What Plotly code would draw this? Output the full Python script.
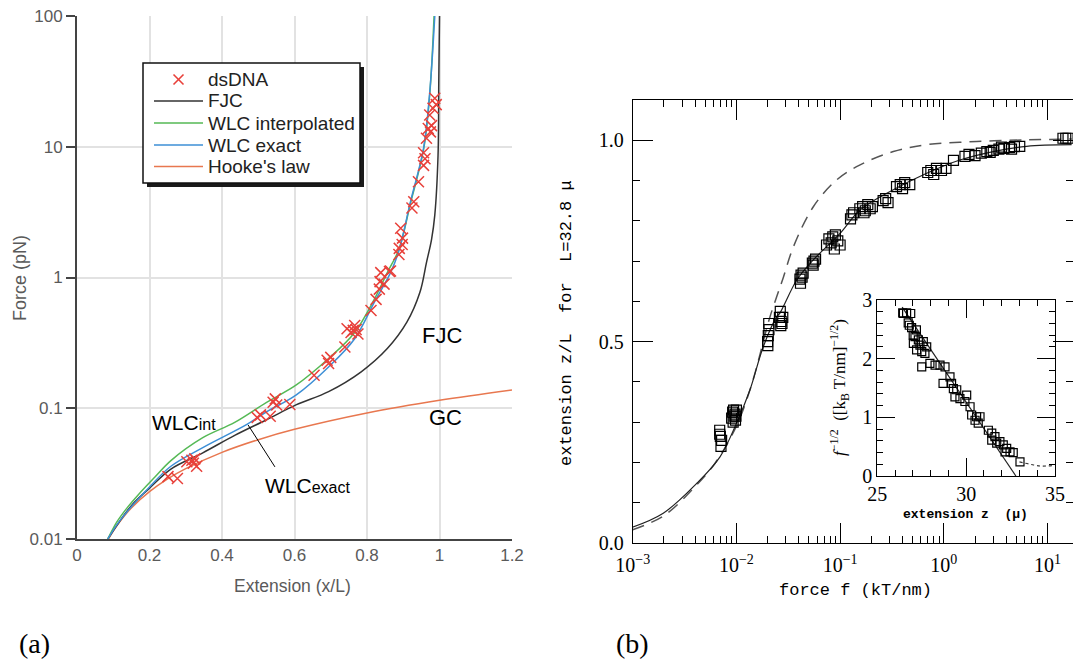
import plotly.graph_objects as go

W, H = 1073, 666

# ---------------- panel (a) data ----------------
fjc_x = [0.085, 0.15, 0.2, 0.259, 0.347, 0.435, 0.523, 0.604, 0.694, 0.784, 0.856, 0.91, 0.946, 0.964, 0.978, 0.987, 0.996, 0.998, 1.0]
fjc_f = [0.01, 0.018, 0.0245, 0.0343, 0.0456, 0.062, 0.0817, 0.106, 0.134, 0.19, 0.286, 0.455, 0.77, 1.3, 1.95, 3.0, 8.6, 31, 100]

wlci_x = [0.085, 0.11, 0.136, 0.171, 0.215, 0.259, 0.347, 0.435, 0.523, 0.604, 0.694, 0.766, 0.82, 0.856, 0.888, 0.92, 0.956, 0.973, 0.985]
wlci_f = [0.01, 0.0135, 0.0170, 0.0221, 0.0298, 0.0398, 0.0596, 0.078, 0.111, 0.150, 0.24, 0.38, 0.68, 1.09, 1.64, 3.7, 9.5, 25, 100]

wlce_x = [0.085, 0.12, 0.2, 0.259, 0.347, 0.47, 0.523, 0.604, 0.694, 0.766, 0.82, 0.865, 0.888, 0.92, 0.956, 0.973, 0.987]
wlce_f = [0.01, 0.014, 0.025, 0.036, 0.050, 0.0756, 0.094, 0.126, 0.207, 0.34, 0.646, 1.09, 1.6, 3.8, 9.7, 26, 100]

hooke_x = [0.085, 0.1, 0.12, 0.15, 0.2, 0.25, 0.3, 0.4, 0.5, 0.6, 0.8, 1.0, 1.2]
hooke_f = [0.0098, 0.0115, 0.0138, 0.0173, 0.023, 0.0288, 0.0345, 0.046, 0.0575, 0.069, 0.092, 0.115, 0.138]

dsdna_x = [0.251, 0.277, 0.303, 0.317, 0.33, 0.321, 0.325,
           0.497, 0.506, 0.533, 0.541, 0.551, 0.547, 0.587,
           0.654, 0.69, 0.694, 0.70, 0.739, 0.745, 0.762, 0.775, 0.766, 0.77, 0.756,
           0.811, 0.825, 0.834, 0.847, 0.838, 0.865, 0.836, 0.862,
           0.888, 0.897, 0.889, 0.898, 0.893,
           0.929, 0.924, 0.942, 0.956, 0.96, 0.956, 0.964, 0.969, 0.978, 0.982, 0.987, 0.991, 0.973, 0.975]
dsdna_f = [0.030, 0.029, 0.039, 0.040, 0.036, 0.038, 0.041,
           0.085, 0.089, 0.087, 0.111, 0.106, 0.118, 0.107,
           0.179, 0.233, 0.22, 0.245, 0.294, 0.405, 0.394, 0.37, 0.43, 0.40, 0.38,
           0.56, 0.68, 0.815, 0.89, 1.09, 1.12, 0.93, 1.11,
           1.5, 1.79, 1.67, 2.0, 2.38,
           3.8, 3.4, 5.4, 7.2, 8.1, 9.0, 11.6, 13.8, 14.5, 19.7, 23.5, 21, 17.5, 13]

pointer_x = [0.472, 0.546]
pointer_f = [0.0745, 0.0356]

a_xticks = [0, 0.2, 0.4, 0.6, 0.8, 1.0, 1.2]
a_xlabels = ["0", "0.2", "0.4", "0.6", "0.8", "1", "1.2"]
a_yticks = [0.01, 0.1, 1, 10, 100]
a_ylabels = ["0.01", "0.1", "1", "10", "100"]

legend_names = ["dsDNA", "FJC", "WLC interpolated", "WLC exact", "Hooke's law"]
legend_colors = ["#e8403a", "#333333", "#55b955", "#3d8fd6", "#e8774f"]

# ---------------- panel (b) data ----------------
wlc_fit_f = [0.00093, 0.00197, 0.00414, 0.00695, 0.01, 0.0135, 0.0182, 0.0245, 0.0263, 0.0382, 0.0552, 0.1, 0.156, 0.326, 0.684, 1.43, 3.0, 6.3, 17.1]
wlc_fit_z = [0.0365, 0.074, 0.148, 0.214, 0.297, 0.38, 0.488, 0.562, 0.571, 0.653, 0.703, 0.769, 0.827, 0.877, 0.918, 0.951, 0.972, 0.985, 0.989]

fjc_b_f = [0.001, 0.002, 0.004, 0.0063, 0.01, 0.0135, 0.0158, 0.019, 0.0211, 0.0245, 0.0284, 0.0354, 0.0552, 0.0929, 0.156, 0.326, 0.684, 2.07, 6.3, 17.1]
fjc_b_z = [0.033, 0.068, 0.14, 0.2, 0.29, 0.38, 0.44, 0.52, 0.562, 0.612, 0.66, 0.735, 0.835, 0.902, 0.939, 0.972, 0.989, 0.997, 1.001, 1.003]

sq_f = [0.0069, 0.0070, 0.0071, 0.0072, 0.0069,
        0.0090, 0.0092, 0.0094, 0.0095, 0.0097, 0.0098, 0.0100, 0.0093, 0.0099,
        0.0200, 0.0203, 0.0206, 0.0205, 0.0201,
        0.0260, 0.0265, 0.0270, 0.0275, 0.0280, 0.0268,
        0.041, 0.042, 0.043, 0.044, 0.0415,
        0.054, 0.056, 0.058, 0.055,
        0.074, 0.078, 0.085, 0.090, 0.095, 0.100, 0.088, 0.082,
        0.126, 0.130, 0.135,
        0.155, 0.165, 0.175, 0.185, 0.195, 0.205, 0.170,
        0.26, 0.275, 0.29,
        0.35, 0.38, 0.42, 0.47, 0.40,
        0.70, 0.75, 0.85, 0.95, 1.05, 0.80, 1.24,
        1.6, 1.75, 2.0, 2.3, 2.6, 3.0, 3.4, 3.8, 4.3, 4.8, 5.4, 2.8, 3.6, 4.5,
        14.1, 15.0, 15.8]
sq_z = [0.28, 0.265, 0.24, 0.255, 0.27,
        0.31, 0.325, 0.33, 0.315, 0.32, 0.305, 0.33, 0.30, 0.315,
        0.50, 0.515, 0.53, 0.545, 0.49,
        0.56, 0.575, 0.55, 0.545, 0.56, 0.54,
        0.655, 0.665, 0.66, 0.67, 0.645,
        0.695, 0.70, 0.705, 0.69,
        0.74, 0.755, 0.76, 0.765, 0.75, 0.74, 0.73, 0.745,
        0.805, 0.815, 0.82,
        0.83, 0.835, 0.825, 0.84, 0.83, 0.835, 0.82,
        0.85, 0.855, 0.845,
        0.885, 0.89, 0.895, 0.89, 0.88,
        0.92, 0.925, 0.93, 0.925, 0.93, 0.915, 0.95,
        0.96, 0.965, 0.962, 0.968, 0.972, 0.975, 0.978, 0.98, 0.982, 0.984, 0.985, 0.97, 0.983, 0.978,
        1.005, 1.005, 1.005]

b_xticks = [1e-3, 1e-2, 1e-1, 1, 10]
b_xlabels = ["10<sup>\u22123</sup>", "10<sup>\u22122</sup>", "10<sup>\u22121</sup>", "10<sup>0</sup>", "10<sup>1</sup>"]
b_xminor = [m * d for d in [1e-3, 1e-2, 1e-1, 1, 10] for m in range(2, 10)]
b_yticks = [0.0, 0.5, 1.0]
b_ylabels = ["0.0", "0.5", "1.0"]
b_yminor = [0.1, 0.2, 0.3, 0.4, 0.6, 0.7, 0.8, 0.9]

# ---------------- inset data ----------------
in_z = [26.43, 26.65, 26.88, 26.47,
        26.74, 26.8, 26.93, 27.2, 27.02,
        27.12, 27.31, 27.4, 27.59, 27.03, 27.21, 27.5, 27.78, 27.68,
        27.5,
        27.96, 28.25, 28.53, 28.81,
        28.7, 29.09, 29.18, 29.28, 29.47, 29.37, 29.65,
        29.93, 30.22, 30.03,
        30.31, 30.59, 30.78, 30.5, 30.68,
        31.25, 31.44, 31.62, 31.72, 31.44, 31.9,
        32.09, 32.28, 32.47, 32.19, 32.65,
        33.03]
in_f = [2.78, 2.78, 2.77, 2.77,
        2.61, 2.57, 2.53, 2.49, 2.40,
        2.375, 2.32, 2.23, 2.29, 2.26, 2.15, 2.12, 2.2, 2.09,
        1.86,
        1.92, 1.89, 1.89, 1.86,
        1.58, 1.69, 1.58, 1.49, 1.47, 1.35, 1.32,
        1.27, 1.18, 1.38,
        1.04, 1.01, 1.01, 0.95, 0.9,
        0.78, 0.73, 0.67, 0.56, 0.61, 0.585,
        0.53, 0.47, 0.41, 0.41, 0.40,
        0.24]
in_line_z = [26.4, 29.6, 32.8]
in_line_f = [2.88, 1.45, 0.0]
in_dot_z = [33.0, 33.6, 34.2, 34.9]
in_dot_f = [0.24, 0.2, 0.17, 0.18]

in_xticks = [25, 30, 35]
in_xminor = [26, 27, 28, 29, 31, 32, 33, 34]
in_yticks = [0, 1, 2, 3]
in_yminor = [0.2, 0.4, 0.6, 0.8, 1.2, 1.4, 1.6, 1.8, 2.2, 2.4, 2.6, 2.8]

# ---------------- figure ----------------
SANS = "Liberation Sans, Arial, sans-serif"
SERIF = "Liberation Serif, Times New Roman, serif"
MONO = "Liberation Mono, Courier New, monospace"
GREY = "#5a5a5a"

fig = go.Figure()

fig.add_trace(go.Scatter(x=hooke_x, y=hooke_f, mode="lines", name=legend_names[4],
                         line=dict(color=legend_colors[4], width=1.5, shape="spline"), xaxis="x", yaxis="y"))
fig.add_trace(go.Scatter(x=fjc_x, y=fjc_f, mode="lines", name=legend_names[1],
                         line=dict(color=legend_colors[1], width=1.5, shape="spline"), xaxis="x", yaxis="y"))
fig.add_trace(go.Scatter(x=wlci_x, y=wlci_f, mode="lines", name=legend_names[2],
                         line=dict(color=legend_colors[2], width=1.5, shape="spline"), xaxis="x", yaxis="y"))
fig.add_trace(go.Scatter(x=wlce_x, y=wlce_f, mode="lines", name=legend_names[3],
                         line=dict(color=legend_colors[3], width=1.5, shape="spline"), xaxis="x", yaxis="y"))
fig.add_trace(go.Scatter(x=dsdna_x, y=dsdna_f, mode="markers", name=legend_names[0],
                         marker=dict(symbol="x-thin", size=11, color=legend_colors[0],
                                     line=dict(color=legend_colors[0], width=1.5)),
                         xaxis="x", yaxis="y"))
fig.add_trace(go.Scatter(x=pointer_x, y=pointer_f, mode="lines", name="pointer",
                         line=dict(color="black", width=1), xaxis="x", yaxis="y", hoverinfo="skip"))

# panel b
fig.add_trace(go.Scatter(x=fjc_b_f, y=fjc_b_z, mode="lines", name="FJC (b)",
                         line=dict(color="#555555", width=1.5, dash="12px,8px", shape="spline"),
                         xaxis="x2", yaxis="y2"))
fig.add_trace(go.Scatter(x=wlc_fit_f, y=wlc_fit_z, mode="lines", name="WLC fit",
                         line=dict(color="#222222", width=1.2, shape="spline"),
                         xaxis="x2", yaxis="y2"))
fig.add_trace(go.Scatter(x=sq_f, y=sq_z, mode="markers", name="data (b)",
                         marker=dict(symbol="square-open", size=10, color="black", line=dict(width=1.2)),
                         xaxis="x2", yaxis="y2"))

# inset
fig.add_trace(go.Scatter(x=in_line_z, y=in_line_f, mode="lines", name="inset fit",
                         line=dict(color="#222222", width=1.2), xaxis="x3", yaxis="y3"))
fig.add_trace(go.Scatter(x=in_dot_z, y=in_dot_f, mode="lines", name="inset dotted",
                         line=dict(color="#333333", width=1.2, dash="dot", shape="spline"),
                         xaxis="x3", yaxis="y3"))
fig.add_trace(go.Scatter(x=in_z, y=in_f, mode="markers", name="inset data",
                         marker=dict(symbol="square-open", size=8, color="black", line=dict(width=1.2)),
                         xaxis="x3", yaxis="y3"))


def px(x):
    return x / W


def py(y):
    return 1 - y / H


b_axis_common = dict(showline=True, linecolor="black", linewidth=1, mirror="allticks",
                     ticks="inside", tickcolor="black", tickwidth=1, showgrid=False, zeroline=False,
                     tickfont=dict(family=SERIF, size=20, color="black"))

fig.update_layout(
    width=W, height=H,
    margin=dict(l=0, r=0, t=0, b=0, pad=0, autoexpand=False),
    paper_bgcolor="white", plot_bgcolor="rgba(0,0,0,0)",
    showlegend=False,
    xaxis=dict(domain=[px(77), px(512)], range=[0, 1.2], anchor="y",
               tickmode="array", tickvals=a_xticks, ticktext=a_xlabels,
               showgrid=True, gridcolor="#e2e2e2", gridwidth=1.5, zeroline=False,
               showline=True, linecolor="#444444", linewidth=2, ticks="",
               tickfont=dict(family=SANS, size=17, color=GREY)),
    yaxis=dict(domain=[py(539), py(16)], type="log", range=[-2, 2], anchor="x",
               tickmode="array", tickvals=a_yticks, ticktext=a_ylabels,
               showgrid=True, gridcolor="#e2e2e2", gridwidth=1.5, zeroline=False,
               showline=True, linecolor="#444444", linewidth=2,
               ticks="outside", ticklen=9, tickwidth=2, tickcolor="#444444",
               tickfont=dict(family=SANS, size=17, color=GREY)),
    xaxis2=dict(domain=[px(632.7), 1.0], type="log", range=[-3, 1.246], anchor="y2",
                tickmode="array", tickvals=b_xticks, ticktext=b_xlabels, ticklen=20,
                ticklabelstandoff=4,
                minor=dict(tickmode="array", tickvals=b_xminor, ticks="inside", ticklen=7,
                           tickcolor="black", tickwidth=1, showgrid=False),
                **b_axis_common),
    yaxis2=dict(domain=[py(543), py(100)], range=[0, 1.1], anchor="x2",
                tickmode="array", tickvals=b_yticks, ticktext=b_ylabels, ticklen=20,
                ticklabelstandoff=4,
                minor=dict(tickmode="array", tickvals=b_yminor, ticks="inside", ticklen=7,
                           tickcolor="black", tickwidth=1, showgrid=False),
                **b_axis_common),
    xaxis3=dict(domain=[px(877.3), px(1055)], range=[25, 35], anchor="y3",
                tickmode="array", tickvals=in_xticks, ticklen=18,
                minor=dict(tickmode="array", tickvals=in_xminor, ticks="inside", ticklen=6,
                           tickcolor="black", tickwidth=1, showgrid=False),
                **b_axis_common),
    yaxis3=dict(domain=[py(476), py(300)], range=[0, 3], anchor="x3",
                tickmode="array", tickvals=in_yticks, ticklen=18,
                minor=dict(tickmode="array", tickvals=in_yminor, ticks="inside", ticklen=6,
                           tickcolor="black", tickwidth=1, showgrid=False),
                **b_axis_common),
)

shapes = []
# inset background
shapes.append(dict(type="rect", xref="paper", yref="paper", x0=px(877.3), x1=px(1055), y0=py(476), y1=py(300),
                   fillcolor="white", line=dict(width=0), layer="below"))
# legend box of panel (a): shadow, frame, samples
LB = dict(x0=143, y0=63, x1=360, y1=183)
shapes.append(dict(type="rect", xref="paper", yref="paper", x0=px(LB["x0"] + 4), x1=px(LB["x1"] + 4),
                   y0=py(LB["y1"] + 4), y1=py(LB["y0"] + 4), fillcolor="#1a1a1a", line=dict(width=0), layer="above"))
shapes.append(dict(type="rect", xref="paper", yref="paper", x0=px(LB["x0"]), x1=px(LB["x1"]),
                   y0=py(LB["y1"]), y1=py(LB["y0"]), fillcolor="white",
                   line=dict(color="#111111", width=1.5), layer="above"))
row_y = [79.5, 101.0, 123.0, 145.0, 166.5]
# x marker sample
shapes.append(dict(type="line", xref="paper", yref="paper", x0=px(173.5), x1=px(183.5),
                   y0=py(row_y[0] - 5), y1=py(row_y[0] + 5), line=dict(color=legend_colors[0], width=1.6), layer="above"))
shapes.append(dict(type="line", xref="paper", yref="paper", x0=px(173.5), x1=px(183.5),
                   y0=py(row_y[0] + 5), y1=py(row_y[0] - 5), line=dict(color=legend_colors[0], width=1.6), layer="above"))
for i in range(1, 5):
    shapes.append(dict(type="line", xref="paper", yref="paper", x0=px(154), x1=px(203),
                       y0=py(row_y[i]), y1=py(row_y[i]), line=dict(color=legend_colors[i], width=1.6), layer="above"))
fig.update_layout(shapes=shapes)

ann = []


def add_text(text, x, y, font, angle=0, xanchor="center", yanchor="middle"):
    ann.append(dict(text=text, x=px(x), y=py(y), xref="paper", yref="paper", showarrow=False,
                    font=font, textangle=angle, xanchor=xanchor, yanchor=yanchor))


for i, name in enumerate(legend_names):
    add_text(name, 206, row_y[i], dict(family=SANS, size=19, color="#222222"), xanchor="left")

add_text("Force (pN)", 20, 278, dict(family=SANS, size=18, color=GREY), angle=-90)
add_text("Extension (x/L)", 292, 586, dict(family=SANS, size=17.5, color=GREY))
add_text("(a)", 35, 643, dict(family=SERIF, size=28, color="black"))
add_text("(b)", 632, 643, dict(family=SERIF, size=28, color="black"))
add_text("FJC", 442, 335, dict(family=SANS, size=22, color="black"))
add_text("GC", 445, 418, dict(family=SANS, size=22, color="black"))
add_text("WLC<span style='font-size:16px'>int</span>", 184, 423, dict(family=SANS, size=21, color="black"))
add_text("WLC<span style='font-size:16px'>exact</span>", 307, 485, dict(family=SANS, size=21, color="black"))
add_text("extension z/L  for  L=32.8 \u03bc", 566, 323, dict(family=MONO, size=17, color="black"), angle=-90)
add_text("force f (kT/nm)", 855, 590, dict(family=MONO, size=17, color="black"))
add_text("<b>extension z  (\u03bc)</b>", 965, 514, dict(family=MONO, size=13, color="black"))
add_text("<i>f</i><sup>\u22121/2</sup>  ([k<sub>B</sub> T/nm]<sup>\u22121/2</sup>)", 839, 388,
         dict(family=SERIF, size=17, color="black"), angle=-90)

fig.update_layout(annotations=ann)

fig.write_html("out.html", config={"displayModeBar": False},
               post_script="document.body.style.margin='0px';document.body.style.overflow='hidden';")
